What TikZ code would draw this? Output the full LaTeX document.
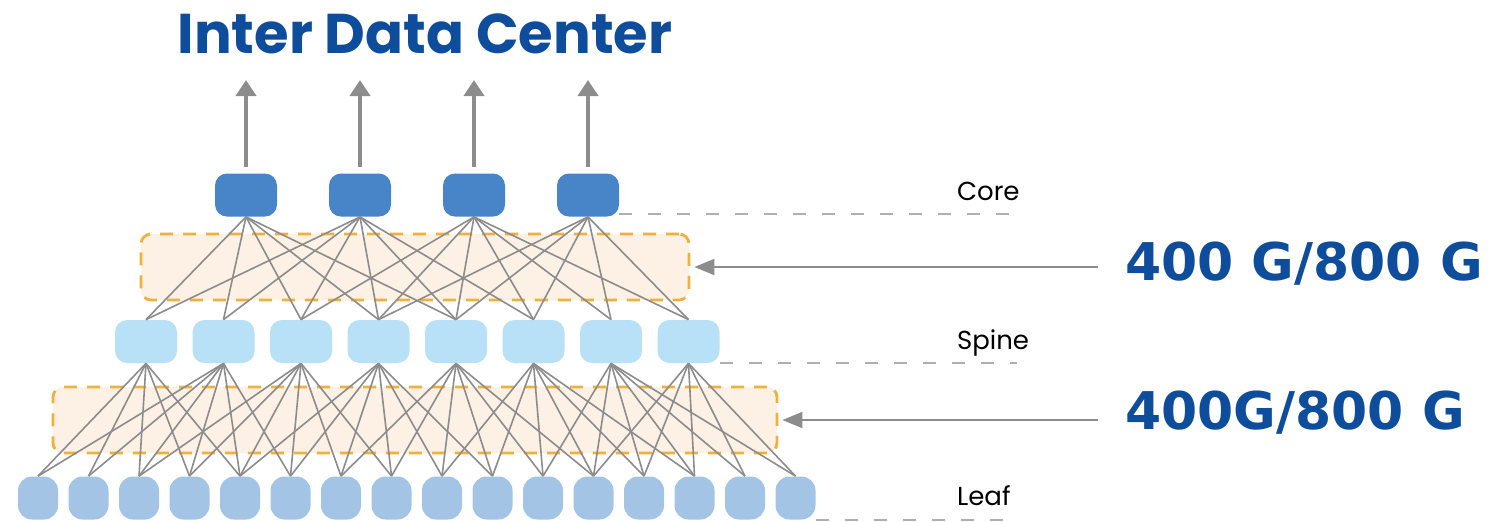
\documentclass[tikz,border=0pt]{standalone}
\usepackage{fontspec}
\setmainfont{DejaVu Sans}
\newfontfamily\geofont{Poppins}
\usetikzlibrary{arrows.meta}
\definecolor{corenode}{RGB}{72,132,200}
\definecolor{spinenode}{RGB}{184,224,247}
\definecolor{leafnode}{RGB}{163,196,228}
\definecolor{linkgray}{RGB}{140,140,140}
\definecolor{guidegray}{RGB}{175,175,175}
\definecolor{bandfill}{RGB}{253,240,228}
\definecolor{banddash}{RGB}{240,176,60}
\definecolor{speedblue}{RGB}{14,76,156}

\begin{document}
\begin{tikzpicture}[x=0.5pt,y=-0.5pt,
  sw/.style={rounded corners=6pt,minimum width=31pt,minimum height=21.5pt,inner sep=0pt},
  core/.style={sw,fill=corenode},
  spine/.style={sw,fill=spinenode},
  leaf/.style={sw,fill=leafnode,minimum width=20pt,rounded corners=7pt},
  band/.style={draw=banddash,fill=bandfill,dash pattern=on 6.5pt off 5pt,line width=1.4pt,
    rounded corners=5pt,inner sep=0pt,minimum height=33pt},
  link/.style={draw=linkgray,line width=0.8pt},
  guide/.style={draw=guidegray,dash pattern=on 6.5pt off 8pt,line width=1pt},
  uplink/.style={draw=linkgray,line width=2pt,-{Triangle[length=8pt,width=10pt]}},
  feed/.style={draw=linkgray,line width=1pt,-{Triangle[length=10pt,width=8pt]}},
  tier/.style={anchor=west,font=\geofont\fontsize{13}{15}\selectfont},
  speed/.style={anchor=west,text=speedblue,font=\fontsize{26}{30}\selectfont\bfseries}]
\useasboundingbox (0,0) rectangle (1498,521);

\node (b1) at (415,267) [band,minimum width=274pt] {};
\node (b2) at (415,420) [band,minimum width=362pt] {};

\foreach \i in {1,...,4}
  \node (c\i) at ({246+114*(\i-1)},195) [core] {};
\foreach \i in {1,...,8}
  \node (s\i) at ({146+77.5*(\i-1)},341.5) [spine] {};
\foreach \i in {1,...,16}
  \node (l\i) at ({38+50.5*(\i-1)},498) [leaf] {};

\foreach \c/\a/\b in {1/1/5, 2/1/6, 3/3/8, 4/4/8}
  \foreach \s in {\a,...,\b}
    \draw[link] (c\c.south) -- (s\s.north);
\foreach \s/\a/\b in {1/1/5, 2/1/6, 3/3/8, 4/5/10, 5/7/12, 6/9/14, 7/11/16, 8/12/16}
  \foreach \l in {\a,...,\b}
    \draw[link] (s\s.south) -- (l\l.north);

\node (title) at (425,34) [text=speedblue,font=\geofont\fontsize{28}{32}\selectfont\bfseries] {Inter Data Center};
\coordinate (top) at (0,80);
\foreach \i in {1,...,4}
  \draw[uplink] ([yshift=3pt]c\i.north) -- (c\i |- top);

\coordinate (gx) at (1017,0);
\draw[guide] ([yshift=1.5pt]c4.south east) -- ([yshift=1.5pt]c4.south east -| gx);
\draw[guide] (s8.south east) -- (s8.south east -| gx);
\draw[guide] (l16.south east) -- (l16.south east -| gx);
\node (tcore) at (950,191) [tier] {Core};
\node (tspine) at (950,343) [tier] {Spine};
\node (tleaf) at (950,496) [tier] {Leaf};

\coordinate (f1) at (1098,267);
\coordinate (f2) at (1098,420);
\draw[feed] (f1) -- ([xshift=2pt]b1.east);
\draw[feed] (f2) -- ([xshift=2pt]b2.east);
\node (g1) at (1118,264) [speed] {400 G/800 G};
\node (g2) at (1118,413) [speed] {400G/800 G};
\end{tikzpicture}
\end{document}
